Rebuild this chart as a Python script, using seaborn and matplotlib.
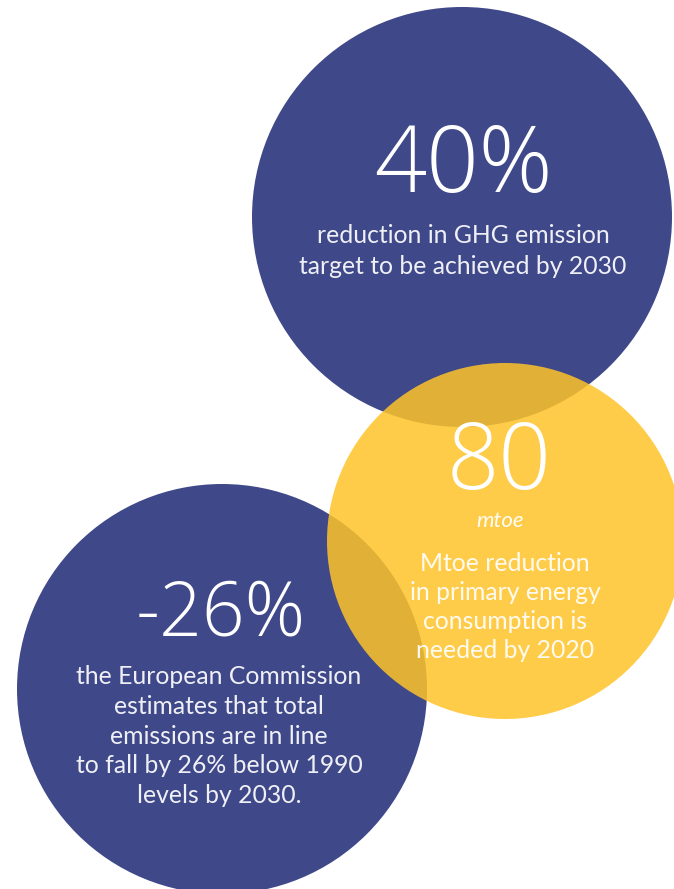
import matplotlib
matplotlib.use("Agg")
import matplotlib.pyplot as plt
from matplotlib.patches import Circle
import seaborn as sns

# figures shown in each bubble
headline_values = ["40%", "80", "-26%"]
headline_units = ["", "mtoe", ""]
captions = [
    "reduction in GHG emission\ntarget to be achieved by 2030",
    "Mtoe reduction\nin primary energy\nconsumption is\nneeded by 2020",
    "the European Commission\nestimates that total\nemissions are in line\nto fall by 26% below 1990\nlevels by 2030.",
]

sns.set_theme(style="white")
plt.rcParams['font.family'] = ['Lato', 'DejaVu Sans']

BLUE = "#3f4889"
YELLOW = "#fec428"

# layout (pixel coords of the 674x889 canvas)
bubbles = [
    dict(xy=(462, 217), r=210, color=BLUE, alpha=1.0, z=1),
    dict(xy=(505, 541), r=178, color=YELLOW, alpha=0.85, z=3),
    dict(xy=(222, 689), r=205, color=BLUE, alpha=1.0, z=2),
]
# baselines of the big figures
big_pos = [(463, 192), (499, 489), (221, 635)]
big_size = [66, 66, 54]
unit_pos = [None, (500, 521), None]
cap_pos = [(463, 251), (505, 607), (219, 736)]
cap_spacing = [1.38, 1.33, 1.36]

fig = plt.figure(figsize=(6.74, 8.89), dpi=100)
ax = fig.add_axes([0, 0, 1, 1])
ax.set_xlim(0, 674)
ax.set_ylim(889, 0)
ax.set_aspect("equal")
ax.axis("off")

for b in bubbles:
    ax.add_patch(Circle(b["xy"], b["r"], facecolor=b["color"], alpha=b["alpha"],
                        edgecolor="none", zorder=b["z"]))

for i, val in enumerate(headline_values):
    ax.text(*big_pos[i], val, color="white", fontsize=big_size[i],
            family=["Open Sans", "DejaVu Sans"], fontweight=300,
            ha="center", va="baseline", zorder=5)
    if headline_units[i]:
        ax.text(*unit_pos[i], headline_units[i], color="white", fontsize=16,
                style="italic", ha="center", va="center",
                alpha=0.95, zorder=5)
    ax.text(*cap_pos[i], captions[i], color="white", fontsize=17.8,
            ha="center", va="center", alpha=0.92,
            linespacing=cap_spacing[i], zorder=5)

fig.savefig("out.png", dpi=100, facecolor="white")
